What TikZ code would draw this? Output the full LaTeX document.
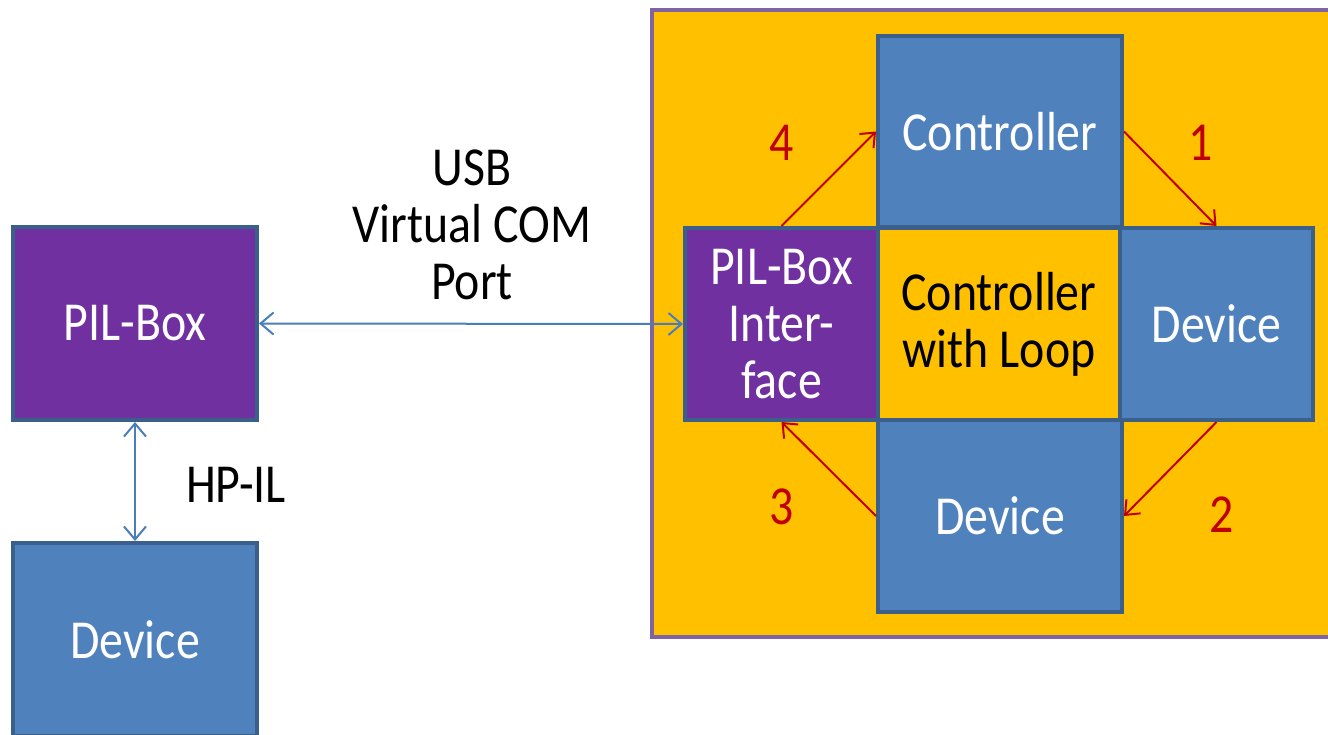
\documentclass[tikz,border=0pt]{standalone}
\usepackage{fontspec}
\setmainfont[FakeStretch=0.87]{Carlito}
\usetikzlibrary{arrows.meta}
\definecolor{boxblue}{HTML}{4F81BD}
\definecolor{boxedge}{HTML}{3A5F8B}
\definecolor{pilpurple}{HTML}{7030A0}
\definecolor{loopgold}{HTML}{FFC000}
\definecolor{frameedge}{HTML}{8064A2}
\definecolor{linkblue}{HTML}{4A7EBB}
\definecolor{stepred}{HTML}{C00000}
\tikzset{
  txt/.style={font=\fontsize{55}{57}\selectfont, align=center, inner sep=0pt},
  block/.style={txt, rectangle, draw=boxedge, line width=4pt, text=white},
  devbox/.style={block, fill=boxblue},
  pilbox/.style={block, fill=pilpurple},
  loopbox/.style={block, fill=loopgold, text=black},
  link/.style={draw=linkblue, line width=2pt,
    {Straight Barb[length=13pt,width=22pt,line width=2pt]}-{Straight Barb[length=13pt,width=22pt,line width=2pt]}},
  stepline/.style={draw=stepred, line width=2pt,
    -{Straight Barb[length=12pt,width=20pt,line width=2pt]}},
  steplabel/.style={txt, text=stepred},
}
\begin{document}
\begin{tikzpicture}[x=1pt,y=-1pt]
\useasboundingbox (0,0) rectangle (1328,734);
\fill[white] (0,0) rectangle (1328,734);
% PC side frame
\draw[frameedge, line width=4pt, fill=loopgold] (652,10) rectangle (1345,637);
% emulator blocks
\node[devbox, minimum width=244pt, minimum height=191pt] (ctrl) at (1000,131.5) {Controller};
\node[pilbox, minimum width=193pt, minimum height=192pt] (pif) at (781.5,324) {PIL-Box\\Inter-\\face};
\node[loopbox, minimum width=242pt, minimum height=192pt] (loop) at (999,324) {Controller\\with Loop};
\node[devbox, minimum width=193pt, minimum height=192pt] (devr) at (1216.5,324) {Device};
\node[devbox, minimum width=244pt, minimum height=192pt] (devb) at (1000,516) {Device};
% hardware side
\node[pilbox, minimum width=244pt, minimum height=193pt] (pil) at (135,323.5) {PIL-Box};
\node[devbox, minimum width=244pt, minimum height=193pt] (dev) at (135,639.5) {Device};
% links
\draw[link] (pil.east) -- (pif.west);
\draw[link] (pil.south) -- (dev.north);
\node[txt] (usb) at (472,225) {USB\\Virtual COM\\Port};
\node[txt] (hpil) at (236,485) {HP-IL};
% loop steps
\draw[stepline] (ctrl.east) -- (devr.north);
\draw[stepline] (devr.south) -- (devb.east);
\draw[stepline] (devb.west) -- (pif.south);
\draw[stepline] (pif.north) -- (ctrl.west);
\node[steplabel] (s1) at (1201,143) {1};
\node[steplabel] (s2) at (1222,515) {2};
\node[steplabel] (s3) at (782,507) {3};
\node[steplabel] (s4) at (782,143) {4};
\end{tikzpicture}
\end{document}
